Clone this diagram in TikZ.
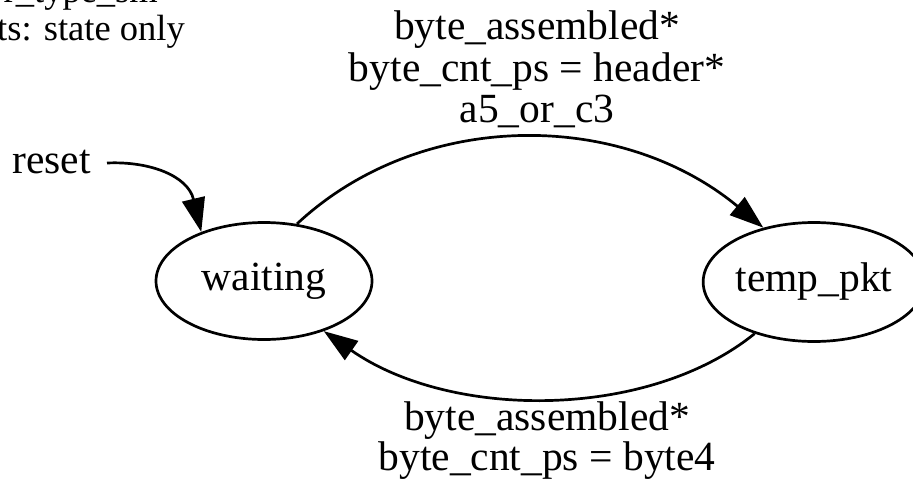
\documentclass[tikz,border=0pt]{standalone}
\usepackage{fontspec}
\setmainfont{Liberation Serif}
\usetikzlibrary{shapes.geometric,arrows.meta}
\begin{document}
\begin{tikzpicture}[x=1pt,y=-1pt,
  lbl/.style={font=\fontsize{41.5}{41}\selectfont, inner sep=0pt, anchor=base},
  glbl/.style={font=\fontsize{36.5}{38}\selectfont, inner sep=0pt, anchor=base east},
  state/.style={draw, ellipse, line width=2.7pt, inner sep=0pt, font=\fontsize{41.5}{41}\selectfont},
  edge/.style={line width=2.7pt, -{Triangle[length=34pt,width=23pt]}}]
\useasboundingbox (0,0) rectangle (913,483);
% graph label (cut off at the top-left)
\node[glbl] (g1) at (158,2) {r\_type\_sm};
\node[glbl] (g2) at (185,40) {ts: state only};
% states
\node[state, minimum width=216pt, minimum height=117pt] (w) at (264,281) {waiting};
\node[state, minimum width=214pt, minimum height=119pt] (t) at (814,282) {temp\_pkt};
% reset
\node[lbl, anchor=base west] (rl) at (12,173) {reset};
\coordinate (rs) at (107,163);
\draw[edge] (rs) .. controls (150,161) and (188,176) .. (w.142);
% edges
\draw[edge] (w.60) .. controls (420,109) and (620,109) .. (t.133);
\draw[edge] (t.221) .. controls (648,420) and (451,420) .. (w.-40);
% edge labels
\node[lbl] (a1) at (537,39) {byte\_assembled*};
\node[lbl] (a2) at (537,81) {byte\_cnt\_ps = header*};
\node[lbl] (a3) at (537,122) {a5\_or\_c3};
\node[lbl] (b1) at (547,430) {byte\_assembled*};
\node[lbl] (b2) at (547,470) {byte\_cnt\_ps = byte4};
\end{tikzpicture}
\end{document}
